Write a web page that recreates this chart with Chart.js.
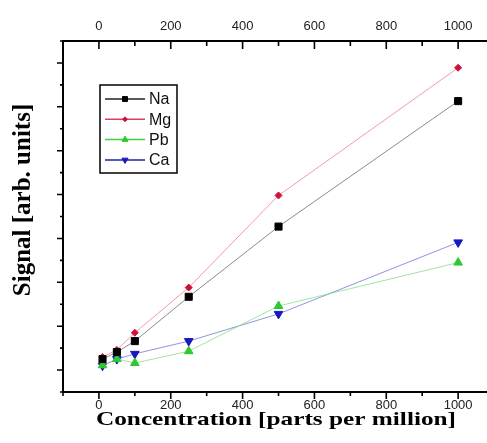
<!DOCTYPE html>
<html>
<head>
<meta charset="utf-8">
<script src="https://cdn.jsdelivr.net/npm/chart.js@4.4.1/dist/chart.umd.min.js"></script>
<style>
  html, body { margin: 0; padding: 0; background: #fff; overflow: hidden; }
  #wrap { width: 518px; height: 443px; }
</style>
</head>
<body>
<div id="wrap"><canvas id="signalChart" width="518" height="443"></canvas></div>
<script>
// Concentrations (ppm) and signal values
const concentrations = [10, 50, 100, 250, 500, 1000];
const naSignal = [0.25, 0.41, 0.66, 1.67, 3.27, 6.13];
const mgSignal = [0.30, 0.46, 0.85, 1.88, 3.98, 6.89];
const pbSignal = [0.11, 0.25, 0.16, 0.43, 1.46, 2.45];
const caSignal = [0.10, 0.25, 0.37, 0.66, 1.28, 2.91];
const xTickLabels = [0, 200, 400, 600, 800, 1000];

const toPoints = (ys) => concentrations.map((x, i) => ({ x: x, y: ys[i] }));

// Minor/major tick marks drawn from the scales' own ticks, plus axis titles
const tickMarks = {
    id: 'tickMarks',
    afterDraw(chart) {
        const { ctx, chartArea, scales } = chart;
        ctx.save();
        ctx.strokeStyle = '#000';
        ctx.lineWidth = 1.6;
        ctx.beginPath();
        scales.x.ticks.forEach(t => {
            const px = scales.x.getPixelForValue(t.value);
            const len = xTickLabels.includes(t.value) ? 7 : 4;
            ctx.moveTo(px, chartArea.bottom);
            ctx.lineTo(px, chartArea.bottom + len);
        });
        scales.x2.ticks.forEach(t => {
            const px = scales.x2.getPixelForValue(t.value);
            const len = xTickLabels.includes(t.value) ? 8 : 5;
            ctx.moveTo(px, chartArea.top);
            ctx.lineTo(px, chartArea.top + len);
        });
        scales.y.ticks.forEach(t => {
            const py = scales.y.getPixelForValue(t.value);
            const len = Number.isInteger(t.value) ? 6 : 3;
            ctx.moveTo(chartArea.left, py);
            ctx.lineTo(chartArea.left - len, py);
        });
        ctx.stroke();

        ctx.fillStyle = '#000';
        ctx.textAlign = 'center';
        ctx.textBaseline = 'middle';

        // x axis title (wide bold serif)
        ctx.save();
        ctx.translate(276, 420);
        ctx.scale(1.33, 1);
        ctx.font = "bold 19px 'Liberation Serif', 'DejaVu Serif', serif";
        ctx.fillText('Concentration [parts per million]', 0, 0);
        ctx.restore();

        // y axis title
        ctx.translate(24, 200);
        ctx.rotate(-Math.PI / 2);
        ctx.font = "bold 25px 'Liberation Serif', 'DejaVu Serif', serif";
        ctx.fillText('Signal [arb. units]', 0, 0);
        ctx.restore();
    }
};

// Boxed legend inside the plot, top left
const boxLegend = {
    id: 'boxLegend',
    afterDraw(chart) {
        const { ctx } = chart;
        const left = 100, top = 85, width = 77, height = 88;
        ctx.save();
        ctx.fillStyle = '#fff';
        ctx.fillRect(left, top, width, height);
        ctx.strokeStyle = '#000';
        ctx.lineWidth = 1.5;
        ctx.strokeRect(left, top, width, height);
        ctx.font = "16px 'Liberation Sans', Arial, sans-serif";
        ctx.textBaseline = 'middle';
        chart.data.datasets.forEach((ds, i) => {
            const y = 99 + i * 20.3;
            ctx.strokeStyle = ds.legendLine;
            ctx.lineWidth = 1.5;
            ctx.beginPath();
            ctx.moveTo(105, y);
            ctx.lineTo(145, y);
            ctx.stroke();
            ctx.fillStyle = ds.pointBackgroundColor;
            ctx.strokeStyle = ds.pointBorderColor;
            ctx.lineWidth = 1;
            Chart.helpers.drawPoint(ctx, {
                pointStyle: ds.pointStyle,
                radius: ds.pointRadius * 0.7,
                rotation: ds.pointRotation || 0,
                borderWidth: 1
            }, 125, y);
            ctx.fillStyle = '#111';
            ctx.fillText(ds.label, 149, y + 1);
        });
        ctx.restore();
    }
};

const tickFont = { family: "'Liberation Sans', Arial, sans-serif", size: 13 };
const xTickCallback = (v) => xTickLabels.includes(v) ? String(v) : '';
const noSidePadding = (s, h) => { s.height = h; s.paddingLeft = 0; s.paddingRight = 0; };

new Chart(document.getElementById('signalChart'), {
    type: 'scatter',
    data: {
        datasets: [
            {
                label: 'Na', data: toPoints(naSignal), showLine: true,
                borderColor: 'rgba(90,90,90,0.7)', borderWidth: 1, legendLine: '#222',
                pointStyle: 'rect', pointRadius: 5,
                pointBackgroundColor: '#000', pointBorderColor: '#000'
            },
            {
                label: 'Mg', data: toPoints(mgSignal), showLine: true,
                borderColor: 'rgba(235,100,130,0.65)', borderWidth: 1, legendLine: '#e0405a',
                pointStyle: 'rectRot', pointRadius: 3.5,
                pointBackgroundColor: '#d0103a', pointBorderColor: '#d0103a'
            },
            {
                label: 'Pb', data: toPoints(pbSignal), showLine: true,
                borderColor: 'rgba(120,220,120,0.7)', borderWidth: 1, legendLine: '#40d040',
                pointStyle: 'triangle', pointRadius: 5,
                pointBackgroundColor: '#30c830', pointBorderColor: '#30c830'
            },
            {
                label: 'Ca', data: toPoints(caSignal), showLine: true,
                borderColor: 'rgba(100,100,210,0.7)', borderWidth: 1, legendLine: '#2020b0',
                pointStyle: 'triangle', pointRotation: 180, pointRadius: 5,
                pointBackgroundColor: '#1818c0', pointBorderColor: '#1818c0'
            }
        ]
    },
    options: {
        responsive: false,
        animation: false,
        layout: { padding: 0 },
        plugins: { legend: { display: false }, tooltip: { enabled: false } },
        scales: {
            x: {
                type: 'linear', position: 'bottom', min: -100, max: 1150,
                afterFit: (s) => noSidePadding(s, 51),
                ticks: { stepSize: 100, autoSkip: false, maxRotation: 0, padding: 6,
                         color: '#222', font: tickFont, callback: xTickCallback },
                grid: { drawOnChartArea: false, drawTicks: false },
                border: { color: '#000', width: 2 }
            },
            x2: {
                type: 'linear', position: 'top', min: -100, max: 1150,
                afterFit: (s) => noSidePadding(s, 41),
                ticks: { stepSize: 100, autoSkip: false, maxRotation: 0, padding: 7,
                         color: '#222', font: tickFont, callback: xTickCallback },
                grid: { drawOnChartArea: false, drawTicks: false },
                border: { color: '#000', width: 2 }
            },
            y: {
                type: 'linear', position: 'left', min: -0.5, max: 7.5,
                afterFit: (s) => { s.width = 63; s.paddingTop = 0; s.paddingBottom = 0; },
                ticks: { stepSize: 0.5, display: false },
                grid: { drawOnChartArea: false, drawTicks: false },
                border: { color: '#000', width: 2 }
            }
        }
    },
    plugins: [tickMarks, boxLegend]
});
</script>
</body>
</html>
